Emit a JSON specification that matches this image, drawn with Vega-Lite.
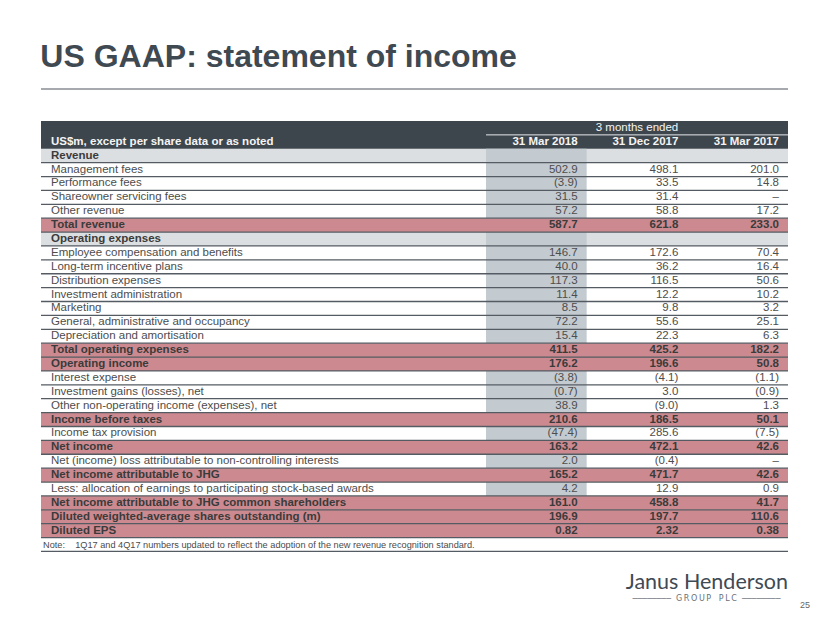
{
  "$schema": "https://vega.github.io/schema/vega-lite/v6.json",
  "background": "white",
  "padding": {"left": 40, "top": 41, "right": 0, "bottom": 0},
  "config": {"view": {"stroke": null}, "font": "Liberation Sans", "text": {"font": "Liberation Sans"}},
  "title": {"text": "US GAAP: statement of income", "anchor": "start", "fontSize": 32, "fontWeight": "bold", "color": "#3f4952", "font": "Liberation Sans", "offset": 14},
  "datasets": {
    "rows": [
      {"id": 1, "kind": "header1", "label": "3 months ended"},
      {"id": 2, "kind": "header2", "label": "US$m, except per share data or as noted", "v1": "31 Mar 2018", "v2": "31 Dec 2017", "v3": "31 Mar 2017"},
      {"id": 3, "kind": "section", "label": "Revenue"},
      {"id": 4, "kind": "item", "label": "Management fees", "v1": "502.9", "v2": "498.1", "v3": "201.0"},
      {"id": 5, "kind": "item", "label": "Performance fees", "v1": "(3.9)", "v2": "33.5", "v3": "14.8"},
      {"id": 6, "kind": "item", "label": "Shareowner servicing fees", "v1": "31.5", "v2": "31.4", "v3": "–"},
      {"id": 7, "kind": "item", "label": "Other revenue", "v1": "57.2", "v2": "58.8", "v3": "17.2"},
      {"id": 8, "kind": "total", "label": "Total revenue", "v1": "587.7", "v2": "621.8", "v3": "233.0"},
      {"id": 9, "kind": "section", "label": "Operating expenses"},
      {"id": 10, "kind": "item", "label": "Employee compensation and benefits", "v1": "146.7", "v2": "172.6", "v3": "70.4"},
      {"id": 11, "kind": "item", "label": "Long-term incentive plans", "v1": "40.0", "v2": "36.2", "v3": "16.4"},
      {"id": 12, "kind": "item", "label": "Distribution expenses", "v1": "117.3", "v2": "116.5", "v3": "50.6"},
      {"id": 13, "kind": "item", "label": "Investment administration", "v1": "11.4", "v2": "12.2", "v3": "10.2"},
      {"id": 14, "kind": "item", "label": "Marketing", "v1": "8.5", "v2": "9.8", "v3": "3.2"},
      {"id": 15, "kind": "item", "label": "General, administrative and occupancy", "v1": "72.2", "v2": "55.6", "v3": "25.1"},
      {"id": 16, "kind": "item", "label": "Depreciation and amortisation", "v1": "15.4", "v2": "22.3", "v3": "6.3"},
      {"id": 17, "kind": "total", "label": "Total operating expenses", "v1": "411.5", "v2": "425.2", "v3": "182.2"},
      {"id": 18, "kind": "total", "label": "Operating income", "v1": "176.2", "v2": "196.6", "v3": "50.8"},
      {"id": 19, "kind": "item", "label": "Interest expense", "v1": "(3.8)", "v2": "(4.1)", "v3": "(1.1)"},
      {"id": 20, "kind": "item", "label": "Investment gains (losses), net", "v1": "(0.7)", "v2": "3.0", "v3": "(0.9)"},
      {"id": 21, "kind": "item", "label": "Other non-operating income (expenses), net", "v1": "38.9", "v2": "(9.0)", "v3": "1.3"},
      {"id": 22, "kind": "total", "label": "Income before taxes", "v1": "210.6", "v2": "186.5", "v3": "50.1"},
      {"id": 23, "kind": "item", "label": "Income tax provision", "v1": "(47.4)", "v2": "285.6", "v3": "(7.5)"},
      {"id": 24, "kind": "total", "label": "Net income", "v1": "163.2", "v2": "472.1", "v3": "42.6"},
      {"id": 25, "kind": "item", "label": "Net (income) loss attributable to non-controlling interests", "v1": "2.0", "v2": "(0.4)", "v3": "–"},
      {"id": 26, "kind": "total", "label": "Net income attributable to JHG", "v1": "165.2", "v2": "471.7", "v3": "42.6"},
      {"id": 27, "kind": "item", "label": "Less: allocation of earnings to participating stock-based awards", "v1": "4.2", "v2": "12.9", "v3": "0.9"},
      {"id": 28, "kind": "total", "label": "Net income attributable to JHG common shareholders", "v1": "161.0", "v2": "458.8", "v3": "41.7"},
      {"id": 29, "kind": "total", "label": "Diluted weighted-average shares outstanding (m)", "v1": "196.9", "v2": "197.7", "v3": "110.6"},
      {"id": 30, "kind": "total", "label": "Diluted EPS", "v1": "0.82", "v2": "2.32", "v3": "0.38"},
      {"id": 31, "kind": "note", "label": "Note:\u00a0\u00a0\u00a0\u00a01Q17 and 4Q17 numbers updated to reflect the adoption of the new revenue recognition standard."},
      {"id": 32, "kind": "blank", "label": ""},
      {"id": 33, "kind": "blank", "label": ""},
      {"id": 34, "kind": "logo", "label": "Janus Henderson"},
      {"id": 35, "kind": "logo2", "label": "────────\u00a0\u00a0G\u2009R\u2009O\u2009U\u2009P\u00a0\u00a0\u00a0P\u2009L\u2009C\u00a0\u00a0────────", "page": "25"}
    ]
  },
  "spacing": 31,
  "bounds": "flush",
  "vconcat": [
    {
      "width": 747, "height": 2,
      "data": {"values": [{"k": 1}]},
      "mark": {"type": "rect", "color": "#a6aaae"},
      "encoding": {}
    },
    {
      "spacing": 0,
      "bounds": "flush",
      "resolve": {"scale": {"x": "independent", "y": "independent"}},
      "hconcat": [
        {
          "width": 445, "height": 486,
          "data": {"name": "rows"},
          "encoding": {
            "y": {"field": "id", "type": "ordinal", "axis": null, "scale": {"domain": [1,2,3,4,5,6,7,8,9,10,11,12,13,14,15,16,17,18,19,20,21,22,23,24,25,26,27,28,29,30,31,32,33,34,35], "paddingInner": 0, "paddingOuter": 0}}
          },
          "layer": [
            {"transform": [{"filter": "datum.kind == 'section'"}], "mark": {"type": "rect", "color": "#dcdfe2"}},
            {"transform": [{"filter": "datum.kind == 'total'"}], "mark": {"type": "rect", "color": "#cc8a90"}},
            {"transform": [{"filter": "datum.kind == 'header1' || datum.kind == 'header2'"}], "mark": {"type": "rect", "color": "#3d464d"}},
            {"transform": [{"filter": "datum.id >= 3 && datum.id <= 31"}], "mark": {"type": "rule", "color": "#555b62", "strokeWidth": 1.3},
             "encoding": {"y": {"field": "id", "type": "ordinal", "bandPosition": 1}}},
            {"transform": [{"filter": "datum.kind == 'item'"}],
             "mark": {"type": "text", "align": "left", "baseline": "middle", "dx": 10, "fontSize": 11.5, "color": "#4d4d4d"},
             "encoding": {"x": {"datum": 0, "type": "quantitative", "scale": {"domain": [0, 1]}, "axis": null}, "text": {"field": "label"}}},
            {"transform": [{"filter": "datum.kind == 'section' || datum.kind == 'total'"}],
             "mark": {"type": "text", "align": "left", "baseline": "middle", "dx": 10, "fontSize": 11.5, "fontWeight": "bold", "color": "#3b3b3b"},
             "encoding": {"x": {"datum": 0, "type": "quantitative", "scale": {"domain": [0, 1]}, "axis": null}, "text": {"field": "label"}}},
            {"transform": [{"filter": "datum.kind == 'header2'"}],
             "mark": {"type": "text", "align": "left", "baseline": "middle", "dx": 10, "fontSize": 11.5, "fontWeight": "bold", "color": "#f4f4f4"},
             "encoding": {"x": {"datum": 0, "type": "quantitative", "scale": {"domain": [0, 1]}, "axis": null}, "text": {"field": "label"}}},
            {"transform": [{"filter": "datum.kind == 'note'"}],
             "mark": {"type": "text", "align": "left", "baseline": "middle", "dx": 2, "fontSize": 9.2, "color": "#4a4a4a"},
             "encoding": {"x": {"datum": 0, "type": "quantitative", "scale": {"domain": [0, 1]}, "axis": null}, "text": {"field": "label"}}}
          ]
        },
        {
          "width": 302, "height": 486,
          "data": {"name": "rows"},
          "encoding": {
            "y": {"field": "id", "type": "ordinal", "axis": null, "scale": {"domain": [1,2,3,4,5,6,7,8,9,10,11,12,13,14,15,16,17,18,19,20,21,22,23,24,25,26,27,28,29,30,31,32,33,34,35], "paddingInner": 0, "paddingOuter": 0}}
          },
          "layer": [
            {"transform": [{"filter": "datum.kind == 'section'"}], "mark": {"type": "rect", "color": "#dcdfe2"}},
            {"transform": [{"filter": "datum.kind == 'total'"}], "mark": {"type": "rect", "color": "#cc8a90"}},
            {"transform": [{"filter": "datum.kind == 'header1' || datum.kind == 'header2'"}], "mark": {"type": "rect", "color": "#3d464d"}},
            {"transform": [{"fold": ["v1", "v2", "v3"], "as": ["col", "val"]}, {"filter": "datum.col == 'v1' && (datum.kind == 'section' || datum.kind == 'item')"}],
             "mark": {"type": "rect", "color": "#c3cad0"},
             "encoding": {"x": {"field": "col", "type": "nominal", "axis": null, "scale": {"domain": ["v1", "v2", "v3"], "paddingInner": 0, "paddingOuter": 0}}}},
            {"transform": [{"filter": "datum.id >= 3 && datum.id <= 31"}], "mark": {"type": "rule", "color": "#555b62", "strokeWidth": 1.3},
             "encoding": {"y": {"field": "id", "type": "ordinal", "bandPosition": 1}}},
            {"transform": [{"filter": "datum.id == 1"}], "mark": {"type": "rule", "color": "#e6e8ea", "strokeWidth": 1},
             "encoding": {"y": {"field": "id", "type": "ordinal", "bandPosition": 1}}},
            {"transform": [{"filter": "datum.kind == 'header1'"}],
             "mark": {"type": "text", "align": "center", "baseline": "middle", "fontSize": 11.5, "color": "#f4f4f4"},
             "encoding": {"x": {"datum": "v2", "type": "nominal", "axis": null}, "text": {"field": "label"}}},
            {"transform": [{"fold": ["v1", "v2", "v3"], "as": ["col", "val"]}, {"filter": "datum.kind == 'item' && datum.val != null"}],
             "mark": {"type": "text", "align": "right", "baseline": "middle", "dx": -9, "fontSize": 11.5, "color": "#4d4d4d"},
             "encoding": {"x": {"field": "col", "type": "nominal", "axis": null, "bandPosition": 1}, "text": {"field": "val"}}},
            {"transform": [{"fold": ["v1", "v2", "v3"], "as": ["col", "val"]}, {"filter": "datum.kind == 'total' && datum.val != null"}],
             "mark": {"type": "text", "align": "right", "baseline": "middle", "dx": -9, "fontSize": 11.5, "fontWeight": "bold", "color": "#3b3b3b"},
             "encoding": {"x": {"field": "col", "type": "nominal", "axis": null, "bandPosition": 1}, "text": {"field": "val"}}},
            {"transform": [{"fold": ["v1", "v2", "v3"], "as": ["col", "val"]}, {"filter": "datum.kind == 'header2' && datum.val != null"}],
             "mark": {"type": "text", "align": "right", "baseline": "middle", "dx": -9, "fontSize": 11.5, "fontWeight": "bold", "color": "#f4f4f4"},
             "encoding": {"x": {"field": "col", "type": "nominal", "axis": null, "bandPosition": 1}, "text": {"field": "val"}}},
            {"transform": [{"filter": "datum.kind == 'logo'"}],
             "mark": {"type": "text", "align": "right", "baseline": "middle", "dy": -3, "fontSize": 21.5, "font": "Lato", "color": "#3f4a54"},
             "encoding": {"x": {"datum": "v3", "type": "nominal", "axis": null, "bandPosition": 1}, "text": {"field": "label"}}},
            {"transform": [{"filter": "datum.kind == 'logo2'"}],
             "mark": {"type": "text", "align": "center", "baseline": "middle", "dy": -1, "fontSize": 8, "font": "DejaVu Sans", "color": "#6a7078"},
             "encoding": {"x": {"datum": "v3", "type": "nominal", "axis": null, "bandPosition": 0.19}, "text": {"field": "label"}}},
            {"transform": [{"filter": "datum.kind == 'logo2'"}],
             "mark": {"type": "text", "align": "center", "baseline": "middle", "dx": 17, "dy": 5, "fontSize": 9, "color": "#666666"},
             "encoding": {"x": {"datum": "v3", "type": "nominal", "axis": null, "bandPosition": 1}, "text": {"field": "page"}}}
          ]
        }
      ]
    }
  ]
}
